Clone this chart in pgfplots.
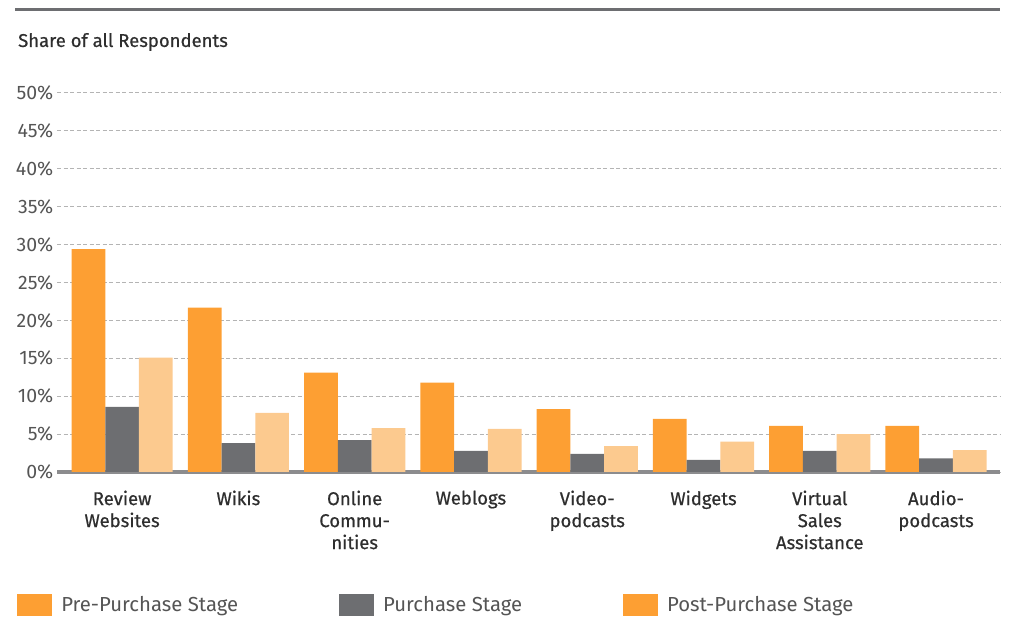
\documentclass[border=0pt]{standalone}
\usepackage{pgfplots}
\pgfplotsset{compat=1.18}
\usepackage{fontspec}
\setmainfont{Fira Sans}
\newfontfamily\medfont[FakeBold=0.6]{Fira Sans}
\definecolor{preor}{HTML}{FD9F33}
\definecolor{purgr}{HTML}{6D6E71}
\definecolor{postor}{HTML}{FCCA8F}
\definecolor{gridg}{HTML}{B4B4B4}
\definecolor{axg}{HTML}{8C8C8E}
\definecolor{txt}{HTML}{2E2E2E}
\definecolor{legtxt}{HTML}{555555}
\begin{document}
\begin{tikzpicture}
\path[use as bounding box] (0,0) rectangle (1009bp,642bp);
\draw[line width=3bp, color=purgr] (15bp,632bp) -- (1000bp,632bp);
\node[anchor=west, inner sep=0pt, text=txt, font=\medfont\fontsize{18.5bp}{21bp}\selectfont] at (18bp,600bp) {Share of all Respondents};
\begin{axis}[
  at={(57bp,170bp)}, anchor=south west,
  scale only axis, width=943bp, height=379bp,
  ybar=0pt, bar width=0.29,
  xmin=-0.56, xmax=7.55, ymin=0, ymax=50,
  enlargelimits=false,
  axis x line=bottom, axis y line=left,
  x axis line style={-, draw=axg, line width=3bp},
  y axis line style={draw=none},
  tick style={draw=none},
  xtick={0,...,7},
  xticklabels={{Review\\Websites},{Wikis},{Online\\Commu-\\nities},{Weblogs},{Video-\\podcasts},{Widgets},{Virtual\\Sales\\Assistance},{Audio-\\podcasts}},
  xticklabel style={align=center, text=txt, font=\medfont\fontsize{18.5bp}{22bp}\selectfont, yshift=-13bp},
  ytick={0,5,...,50},
  yticklabels={0\%,5\%,10\%,15\%,20\%,25\%,30\%,35\%,40\%,45\%,50\%},
  yticklabel style={text=legtxt, font=\fontsize{19.5bp}{22bp}\selectfont, xshift=2bp},
  ymajorgrids,
  major grid style={color=gridg, line width=1bp, dash pattern=on 4bp off 2.5bp},
  legend columns=3,
  legend style={draw=none, at={(-0.0455,-0.35)}, anchor=west,
    font=\fontsize{20.3bp}{23bp}\selectfont, text=legtxt,
    /tikz/every even column/.append style={column sep=99bp},
    /tikz/every odd column/.append style={column sep=7bp}},
  legend image code/.code={\fill[#1] (0bp,-11bp) rectangle (35bp,11bp);},
]
\addplot[draw=none, fill=preor] coordinates {(0,29.4) (1,21.7) (2,13.1) (3,11.8) (4,8.3) (5,7.0) (6,6.1) (7,6.1)};
\addlegendentry{Pre-Purchase Stage}
\addplot[draw=none, fill=purgr] coordinates {(0,8.6) (1,3.8) (2,4.2) (3,2.8) (4,2.4) (5,1.6) (6,2.8) (7,1.8)};
\addlegendentry{Purchase Stage}
\addplot[draw=none, fill=postor, legend image code/.code={\fill[preor] (0bp,-11bp) rectangle (35bp,11bp);}] coordinates {(0,15.1) (1,7.8) (2,5.8) (3,5.7) (4,3.4) (5,4.0) (6,5.0) (7,2.9)};
\addlegendentry{Post-Purchase Stage}
\end{axis}
\end{tikzpicture}
\end{document}
